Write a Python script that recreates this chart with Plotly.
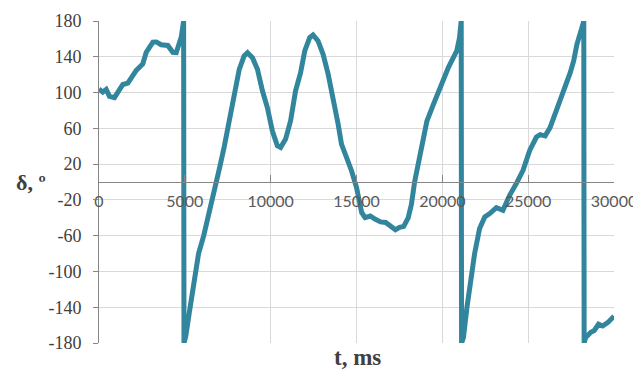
import plotly.graph_objects as go

t_ms = [0, 220, 420, 610, 900, 1390, 1680, 2170, 2550, 2750, 3140, 3340, 3620, 4010, 4300, 4500, 4790, 4930,
        4950, 5060, 5260, 5460, 5650, 5800, 6100, 6450, 6830, 7050, 7300, 7600, 7880, 8170, 8455, 8650, 8940,
        9230, 9520, 9810, 10100, 10390, 10580, 10870, 11160, 11450, 11740, 11985, 12275, 12470, 12760, 13055,
        13350, 13640, 13930, 14125, 14420, 14710, 15000, 15150, 15300, 15500, 15800, 16100, 16400, 16700,
        17000, 17270, 17510, 17750, 18010, 18200, 18385, 18600, 18890, 19100, 19475, 19770, 20060, 20350,
        20640, 20840, 21000, 21100,
        21120, 21230, 21430, 21630, 21880, 22170, 22470, 22760, 23150, 23530, 23920, 24310, 24700, 25090,
        25480, 25700, 25990, 26280, 26570, 26870, 27160, 27450, 27650, 27840, 28130, 28240,
        28260, 28350, 28650, 28850, 29100, 29340, 29650, 30000]

delta_deg = [104, 100.5, 103.6, 95.7, 94.3, 109, 110.6, 124.8, 132, 145, 156.4, 156.6, 153.5, 152.7, 145, 144.6, 162, 180,
             -180, -172, -146, -120, -97, -80, -60, -33, 0, 18, 40, 69, 100, 126, 141, 144.6, 139,
             126, 102, 83, 57, 40.5, 38.6, 48, 68.4, 102, 122, 146.5, 161.4, 164.4, 157.7, 142.8,
             120.5, 94.4, 64.7, 42.3, 27.4, 12.6, -6, -20, -34, -39.8, -38, -41.7, -44.6, -45.3,
             -49, -53.4, -50.8, -49.7, -40, -25, 0, 22, 48, 68, 86.6, 101.6, 116.7, 128,
             139, 146.5, 161.4, 180,
             -180, -173.8, -140.7, -111, -80, -52, -39, -35.3, -28.6, -31.6, -14.9, -1.8, 13, 35.4,
             50.3, 53, 51.6, 61, 75.8, 94.4, 109.3, 122.3, 135.3, 154, 172.6, 180,
             -180, -173.8, -168, -166, -159, -161, -157, -150]

x_ticks = [0, 5000, 10000, 15000, 20000, 25000, 30000]
y_ticks = [-180, -140, -100, -60, -20, 20, 60, 100, 140, 180]

fig = go.Figure()
fig.add_trace(go.Scatter(x=t_ms, y=delta_deg, mode="lines",
                         line=dict(color="#31859C", width=5), showlegend=False))

# page body has an 8px default margin; size the figure so it ends at the window edge
fig.update_layout(
    width=633, height=364,
    margin=dict(l=91, r=27, t=13, b=29),
    paper_bgcolor="white", plot_bgcolor="white",
    xaxis=dict(range=[0, 30000], tickvals=x_ticks, ticktext=[str(v) for v in x_ticks],
               showgrid=True, gridcolor="#d9d9d9", gridwidth=1, automargin=False,
               anchor="free", position=0.5, showline=True, linecolor="#868686", linewidth=1,
               ticks="inside", ticklen=7, tickcolor="#868686",
               tickfont=dict(family="Lato", size=16, color="#595959"),
               ticklabelstandoff=5, zeroline=False),
    yaxis=dict(range=[-180, 180], tickvals=y_ticks, ticktext=[str(v) for v in y_ticks],
               showgrid=True, gridcolor="#d9d9d9", gridwidth=1, automargin=False,
               showline=True, linecolor="#868686", linewidth=1,
               ticks="outside", ticklen=5, tickcolor="#868686",
               tickfont=dict(family="Liberation Serif", size=18, color="#404040"),
               ticklabelstandoff=8, zeroline=False),
    annotations=[
        dict(text="<b>δ, º</b>", xref="paper", yref="paper", x=-0.132, y=0.5,
             xanchor="center", yanchor="middle", showarrow=False,
             font=dict(family="Liberation Serif", size=22, color="#404040")),
        dict(text="<b>t, ms</b>", xref="paper", yref="paper", x=0.501, y=-0.044,
             xanchor="center", yanchor="middle", showarrow=False,
             font=dict(family="Liberation Serif", size=23, color="#404040")),
    ],
)

fig.write_html("out.html")
